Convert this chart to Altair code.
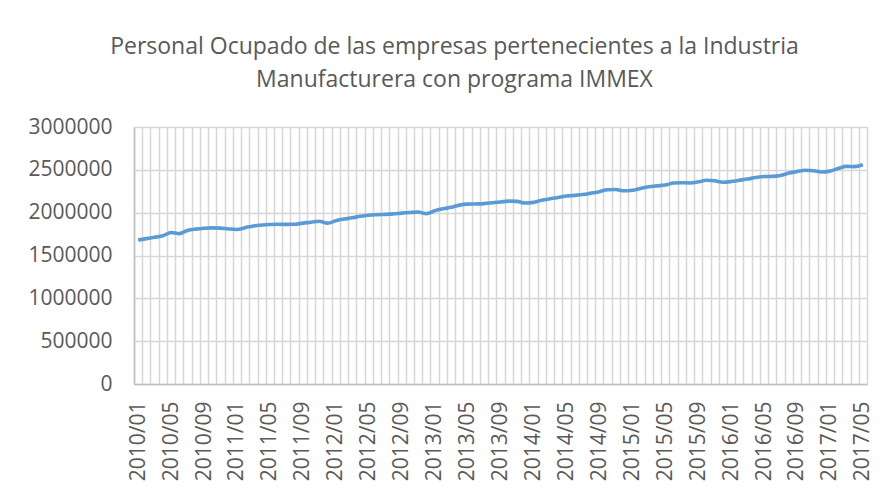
import altair as alt
import pandas as pd

years = [2010, 2011, 2012, 2013, 2014, 2015, 2016, 2017]
month_codes = ["01", "02", "03", "04", "05", "06", "07", "08", "09", "10", "11", "12"]

values = [
    1680000, 1697000, 1713000, 1730000, 1769000, 1755000, 1792000, 1808000, 1818000, 1823000, 1820000, 1810000,
    1804000, 1825000, 1845000, 1855000, 1862000, 1864000, 1863000, 1864000, 1878000, 1888000, 1900000, 1878000,
    1905000, 1925000, 1940000, 1958000, 1970000, 1976000, 1980000, 1986000, 1995000, 2002000, 2007000, 1988000,
    2022000, 2045000, 2062000, 2088000, 2100000, 2102000, 2106000, 2115000, 2125000, 2135000, 2132000, 2112000,
    2120000, 2145000, 2162000, 2178000, 2194000, 2202000, 2211000, 2228000, 2245000, 2268000, 2270000, 2255000,
    2262000, 2283000, 2302000, 2313000, 2322000, 2346000, 2350000, 2347000, 2360000, 2378000, 2372000, 2355000,
    2363000, 2378000, 2393000, 2410000, 2422000, 2424000, 2435000, 2462000, 2480000, 2496000, 2490000, 2474000,
    2485000, 2515000, 2540000, 2538000, 2559000,
]

periods = [f"{y}/{m}" for y in years for m in month_codes][: len(values)]
y_ticks = [0, 500000, 1000000, 1500000, 2000000, 2500000, 3000000]
title_lines = [
    "Personal Ocupado de las empresas pertenecientes a la Industria",
    "Manufacturera con programa IMMEX",
]

n = len(values)
df = pd.DataFrame({"idx": list(range(n)), "periodo": periods, "valor": values})

# axis positions: band boundaries (grid) and band centres (labels)
x_axis_values = [i / 2 - 0.5 for i in range(2 * n + 1)]
label_expr = (
    "(datum.value % 1 == 0 && datum.value % 4 == 0) ? "
    "(2010 + floor(datum.value / 12)) + '/' + (datum.value % 12 < 9 ? '0' : '') + (datum.value % 12 + 1) : ''"
)

FONT = "Open Sans"
TEXT = "#595959"

chart = (
    alt.Chart(df)
    .mark_line(color="#5b9bd5", strokeWidth=3.6, interpolate="monotone")
    .encode(
        x=alt.X(
            "idx:Q",
            scale=alt.Scale(domain=[-0.5, n - 0.5], nice=False, zero=False),
            axis=alt.Axis(
                title=None,
                values=x_axis_values,
                labelAngle=-90,
                labelAlign="right",
                labelBaseline="middle",
                labelPadding=17,
                labelFontSize=21,
                labelFont=FONT,
                labelColor=TEXT,
                labelOverlap=False,
                labelBound=False,
                labelFlush=False,
                labelExpr=label_expr,
                ticks=False,
                grid=True,
                gridColor="#d6d6d6",
                gridWidth=1.5,
                gridOpacity={"condition": {"test": "datum.value % 1 != 0", "value": 1}, "value": 0},
                domainColor="#bfbfbf",
                domainWidth=1.5,
            ),
        ),
        y=alt.Y(
            "valor:Q",
            scale=alt.Scale(domain=[0, 3000000], nice=False),
            axis=alt.Axis(
                title=None,
                values=y_ticks,
                format="d",
                labelFontSize=21,
                labelFont=FONT,
                labelColor=TEXT,
                labelPadding=22,
                ticks=False,
                grid=True,
                gridColor="#d6d6d6",
                gridWidth=1.5,
                domainColor="#bfbfbf",
                domainWidth=1.5,
            ),
        ),
    )
    .properties(
        width=733,
        height=257,
        autosize=alt.AutoSizeParams(type="none"),
        padding={"left": 126, "top": 119, "right": 8, "bottom": 99},
        title=alt.TitleParams(
            text=title_lines,
            font=FONT,
            fontSize=23,
            fontWeight="normal",
            color=TEXT,
            anchor="middle",
            frame="group",
            dx=-46,
            offset=24,
            lineHeight=33,
        ),
    )
    .configure_view(stroke=None)
    .configure(background="white")
)

chart.save("out.html", embed_options={"renderer": "svg", "actions": False})
